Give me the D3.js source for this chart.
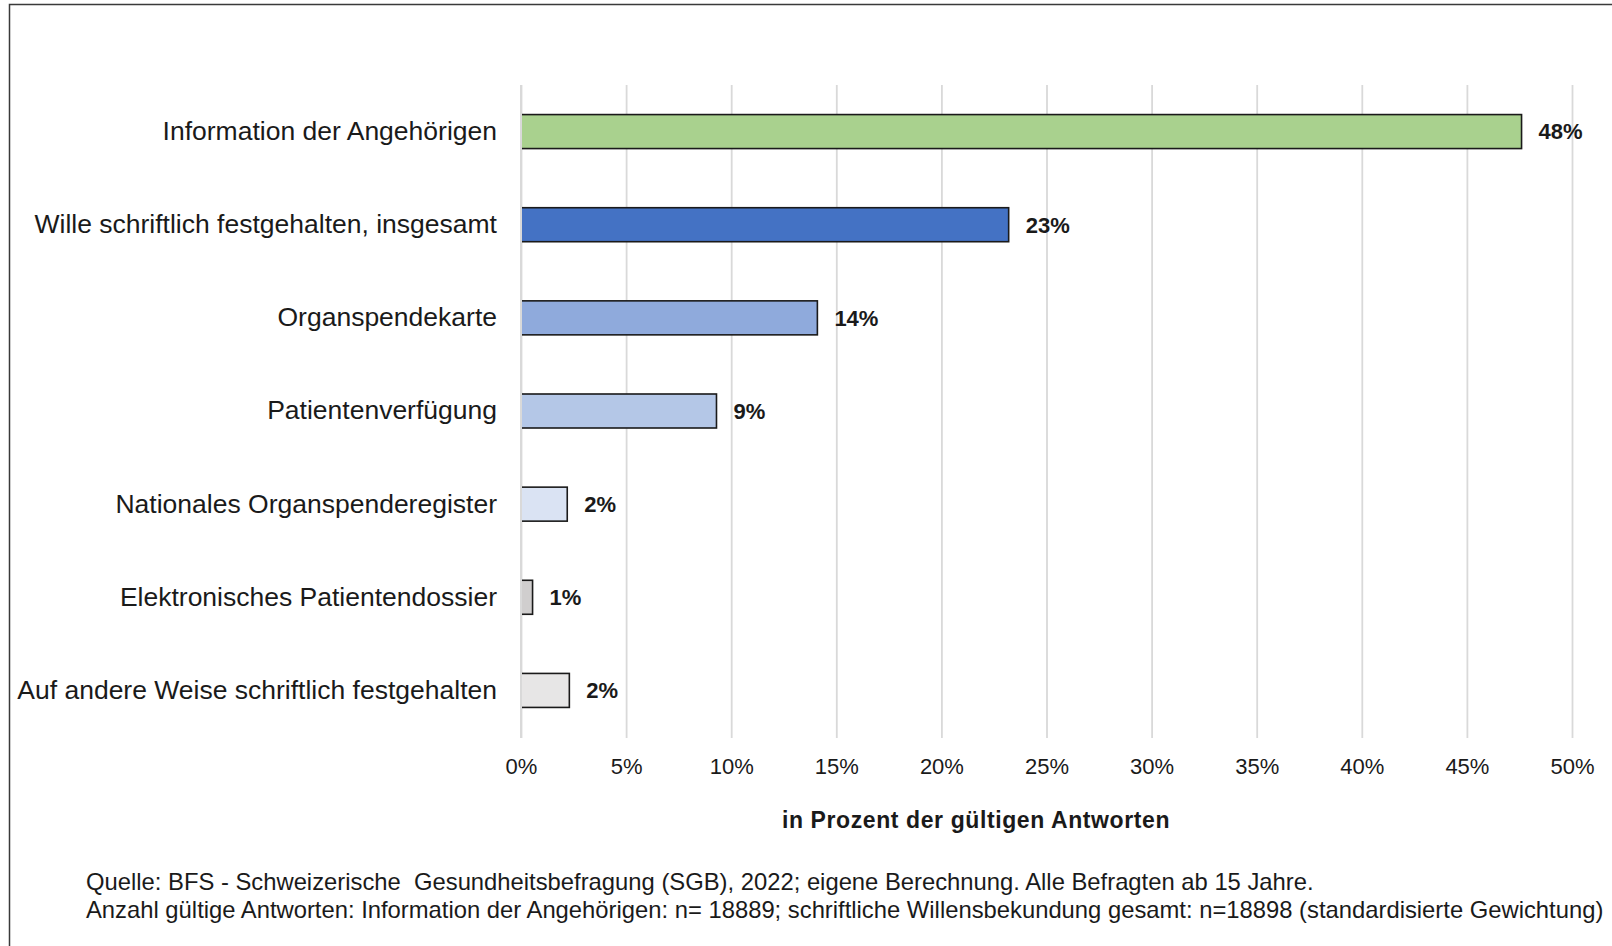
<!DOCTYPE html>
<html lang="de">
<head>
<meta charset="utf-8">
<title>Organspende – Willensbekundung</title>
<script src="https://cdn.jsdelivr.net/npm/d3@7"></script>
<style>
  html, body { margin: 0; padding: 0; background: #fff; overflow: hidden; }
  svg { display: block; font-family: "Liberation Sans", Arial, sans-serif; }
  .cat-axis text { font-size: 26.5px; fill: #1a1a1a; }
  .x-axis text { font-size: 22px; fill: #1a1a1a; }
  .value-label { font-size: 22px; font-weight: bold; fill: #1a1a1a; }
  .axis-title { font-size: 23px; font-weight: bold; fill: #1a1a1a; letter-spacing: 0.6px; }
  .footer { font-size: 23.8px; fill: #1a1a1a; }
</style>
</head>
<body>
<svg id="chart"></svg>
<script>
// ─── Data ─────────────────────────────────────────────────────────────────────
const categories = [
  "Information der Angehörigen",
  "Wille schriftlich festgehalten, insgesamt",
  "Organspendekarte",
  "Patientenverfügung",
  "Nationales Organspenderegister",
  "Elektronisches Patientendossier",
  "Auf andere Weise schriftlich festgehalten"
];
const values = [47.6, 23.2, 14.1, 9.3, 2.2, 0.55, 2.3];
const barColors = ["#a9d18e", "#4472c4", "#8faadc", "#b4c7e7", "#dae3f3", "#d0cece", "#e7e6e6"];
const xTicks = [0, 5, 10, 15, 20, 25, 30, 35, 40, 45, 50];
const axisTitle = "in Prozent der gültigen Antworten";
const footerLines = [
  "Quelle: BFS - Schweizerische\u00a0 Gesundheitsbefragung (SGB), 2022; eigene Berechnung. Alle Befragten ab 15 Jahre.",
  "Anzahl gültige Antworten: Information der Angehörigen: n= 18889; schriftliche Willensbekundung gesamt: n=18898 (standardisierte Gewichtung)"
];

// ─── Layout ───────────────────────────────────────────────────────────────────
const W = 1612, H = 946;
const plot = { left: 521, right: 1572, top: 85, bottom: 738 };

const svg = d3.select("#chart").attr("width", W).attr("height", H);

// outer frame (right and bottom edges run off the picture)
svg.append("rect")
  .attr("x", 9.5).attr("y", 4.5)
  .attr("width", W + 20).attr("height", H + 20)
  .attr("fill", "none")
  .attr("stroke", "#3a3a3a")
  .attr("stroke-width", 1.5);

const x = d3.scaleLinear().domain([0, 50]).range([plot.left, plot.right]);
const y = d3.scaleBand()
  .domain(categories)
  .range([plot.top, plot.bottom - 1])
  .paddingInner(0.635)
  .paddingOuter(0.3175);

// ─── Grid ─────────────────────────────────────────────────────────────────────
const grid = svg.append("g")
  .attr("transform", `translate(0,${plot.bottom})`)
  .call(d3.axisBottom(x).tickValues(xTicks).tickSize(-(plot.bottom - plot.top)).tickFormat(""));
grid.select(".domain").remove();
grid.selectAll(".tick line").attr("stroke", "#d9d9d9").attr("stroke-width", 1.8);

// ─── Bars ─────────────────────────────────────────────────────────────────────
const rows = categories.map((c, i) => ({ cat: c, value: values[i], color: barColors[i] }));

svg.append("g").selectAll("rect")
  .data(rows)
  .join("rect")
  .attr("x", x(0))
  .attr("y", d => y(d.cat))
  .attr("width", d => x(d.value) - x(0))
  .attr("height", y.bandwidth())
  .attr("fill", d => d.color)
  .attr("stroke", "#1a1a1a")
  .attr("stroke-width", 1.6);

// zero line drawn over the bars' left edges
svg.append("line")
  .attr("x1", x(0)).attr("x2", x(0))
  .attr("y1", plot.top).attr("y2", plot.bottom)
  .attr("stroke", "#d9d9d9")
  .attr("stroke-width", 2);

// value labels
svg.append("g").selectAll("text")
  .data(rows)
  .join("text")
  .attr("class", "value-label")
  .attr("x", d => x(d.value) + 17)
  .attr("y", d => y(d.cat) + y.bandwidth() / 2)
  .attr("dy", "0.36em")
  .text(d => `${d3.format(".0f")(d.value)}%`);

// ─── Axes ─────────────────────────────────────────────────────────────────────
const catAxis = svg.append("g")
  .attr("class", "cat-axis")
  .attr("transform", `translate(${plot.left},0)`)
  .call(d3.axisLeft(y).tickSize(0).tickPadding(24));
catAxis.select(".domain").remove();
catAxis.selectAll("text").attr("font-family", null).attr("font-size", null);

const xAxis = svg.append("g")
  .attr("class", "x-axis")
  .attr("transform", `translate(0,${plot.bottom})`)
  .call(d3.axisBottom(x).tickValues(xTicks).tickSize(0).tickPadding(20.5).tickFormat(d => `${d}%`));
xAxis.select(".domain").remove();
xAxis.selectAll("text").attr("font-family", null).attr("font-size", null);

svg.append("text")
  .attr("class", "axis-title")
  .attr("x", 976)
  .attr("y", 828)
  .attr("text-anchor", "middle")
  .text(axisTitle);

// ─── Footer ───────────────────────────────────────────────────────────────────
svg.append("g").selectAll("text")
  .data(footerLines)
  .join("text")
  .attr("class", "footer")
  .attr("x", 86)
  .attr("y", (d, i) => 890 + i * 28)
  .text(d => d);
</script>
</body>
</html>
